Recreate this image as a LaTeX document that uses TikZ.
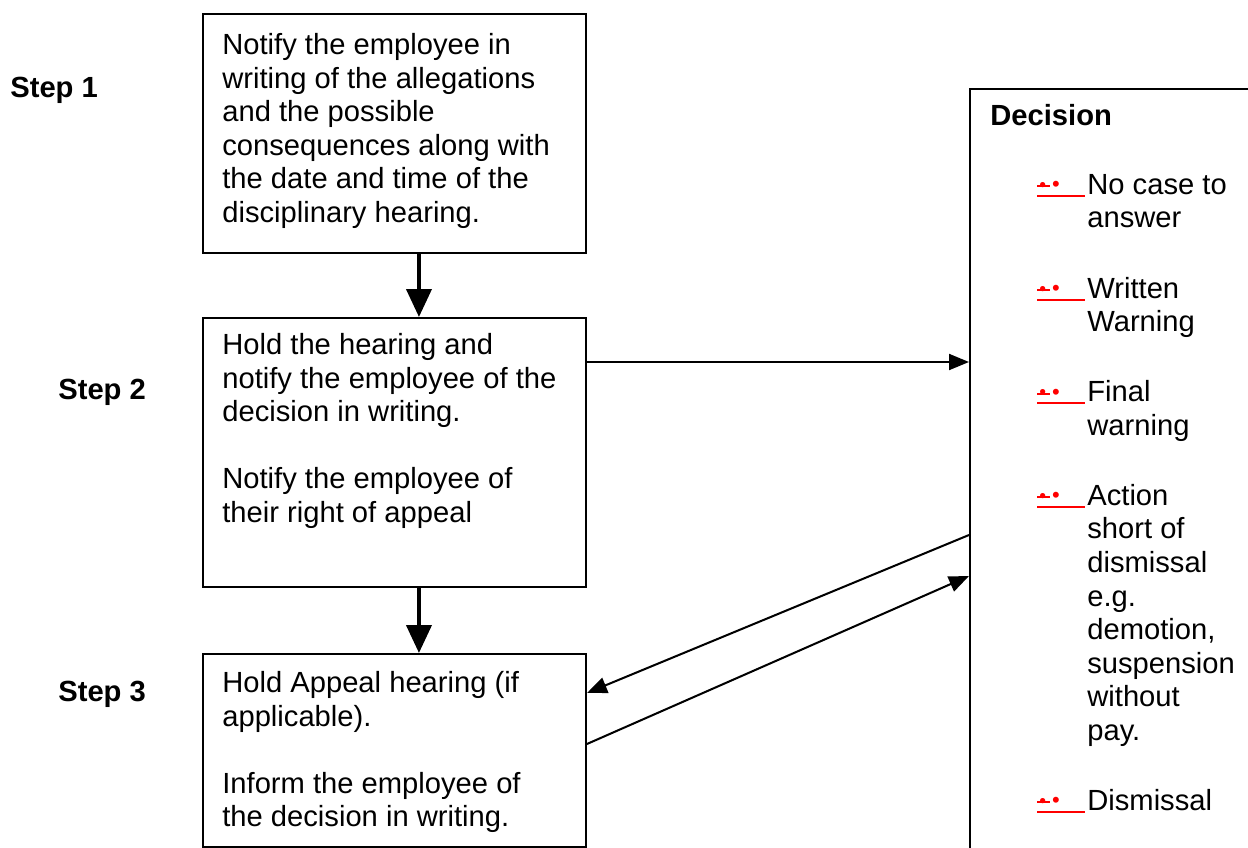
\documentclass[tikz,border=0pt]{standalone}
\usepackage{fontspec}
\setmainfont{Liberation Sans}
\usepackage{xcolor}
\usetikzlibrary{positioning, arrows.meta, calc}
\definecolor{bulletred}{RGB}{255,0,0}
\newcommand{\redbul}{\llap{\textcolor{bulletred}{\makebox[1.0cm][l]{%
  \rlap{\rule[-0.05cm]{0.96cm}{0.04cm}}%
  \rlap{\rule[0.14cm]{0.26cm}{0.04cm}}%
  \hspace*{0.04cm}\raisebox{0.06cm}{\fontsize{11}{11}\selectfont\textbullet}%
  \hspace*{0.12cm}\raisebox{0.05cm}{\fontsize{12.5}{12.5}\selectfont\textbullet}}}}}
\tikzset{
  box/.style={draw, line width=1.15pt, inner sep=0pt, anchor=north west},
  txt/.style={inner sep=0pt, align=left, font=\fontsize{16.6}{19.1}\selectfont},
  steplabel/.style={anchor=north west, inner sep=0pt, font=\fontsize{16.6}{19.1}\selectfont\bfseries},
  flow/.style={line width=2.3pt, -{Triangle[length=0.56cm,width=0.5cm]}},
  link/.style={line width=1.15pt, -{Triangle[length=0.4cm,width=0.32cm]}},
}
\begin{document}
\begin{tikzpicture}[x=0.02cm, y=-0.02cm]
  \useasboundingbox (0,0) rectangle (1248,848);
  \clip (0,0) rectangle (1248,848);

  % boxes
  \node[box, minimum width=7.66cm, minimum height=4.78cm] (box1) at (202,13) {};
  \node[box, minimum width=7.66cm, minimum height=5.38cm] (box2) at (202,317) {};
  \node[box, minimum width=7.66cm, minimum height=3.86cm] (box3) at (202,653) {};
  \node[box, minimum width=5.82cm, minimum height=15.44cm] (decision) at (969,88) {};

  \node[txt, below right=0.4cm and 0.4cm of box1.north west] (text1)
    {Notify the employee in\\writing of the allegations\\and the possible\\consequences along with\\the date and time of the\\disciplinary hearing.};
  \node[txt, below right=0.32cm and 0.4cm of box2.north west] (text2)
    {Hold the hearing and\\notify the employee of the\\decision in writing.\\[19.1pt]Notify the employee of\\their right of appeal};
  \node[txt, below right=0.36cm and 0.4cm of box3.north west] (text3)
    {Hold Appeal hearing (if\\applicable).\\[19.1pt]Inform the employee of\\the decision in writing.};

  \node[steplabel] (step1) at (10,77) {Step 1};
  \node[steplabel] (step2) at (58,379) {Step 2};
  \node[steplabel] (step3) at (58,681) {Step 3};

  \node[txt, font=\fontsize{16.6}{19.1}\selectfont\bfseries, below right=0.32cm and 0.42cm of decision.north west] (dtitle) {Decision};
  \node[txt, anchor=north west] (options) at (1087,174)
    {\redbul No case to\\answer\\[20.8pt]
     \redbul Written\\Warning\\[20.8pt]
     \redbul Final\\warning\\[20.8pt]
     \redbul Action\\short of\\dismissal\\e.g.\\demotion,\\suspension\\without\\pay.\\[20.8pt]
     \redbul Dismissal};

  % connectors
  \draw[flow] ([xshift=0.49cm]box1.south) -- ([xshift=0.49cm]box2.north);
  \draw[flow] ([xshift=0.49cm]box2.south) -- ([xshift=0.49cm]box3.north);
  \draw[link] ($(box2.north east)+(0,45)$) -- ($(decision.north west)+(0,274)$);
  \draw[link] ($(decision.north west)+(0,447)$) -- ($(box3.north east)+(0,40)$);
  \draw[link] ($(box3.north east)+(0,91)$) -- ($(decision.north west)+(0,488)$);
\end{tikzpicture}
\end{document}
